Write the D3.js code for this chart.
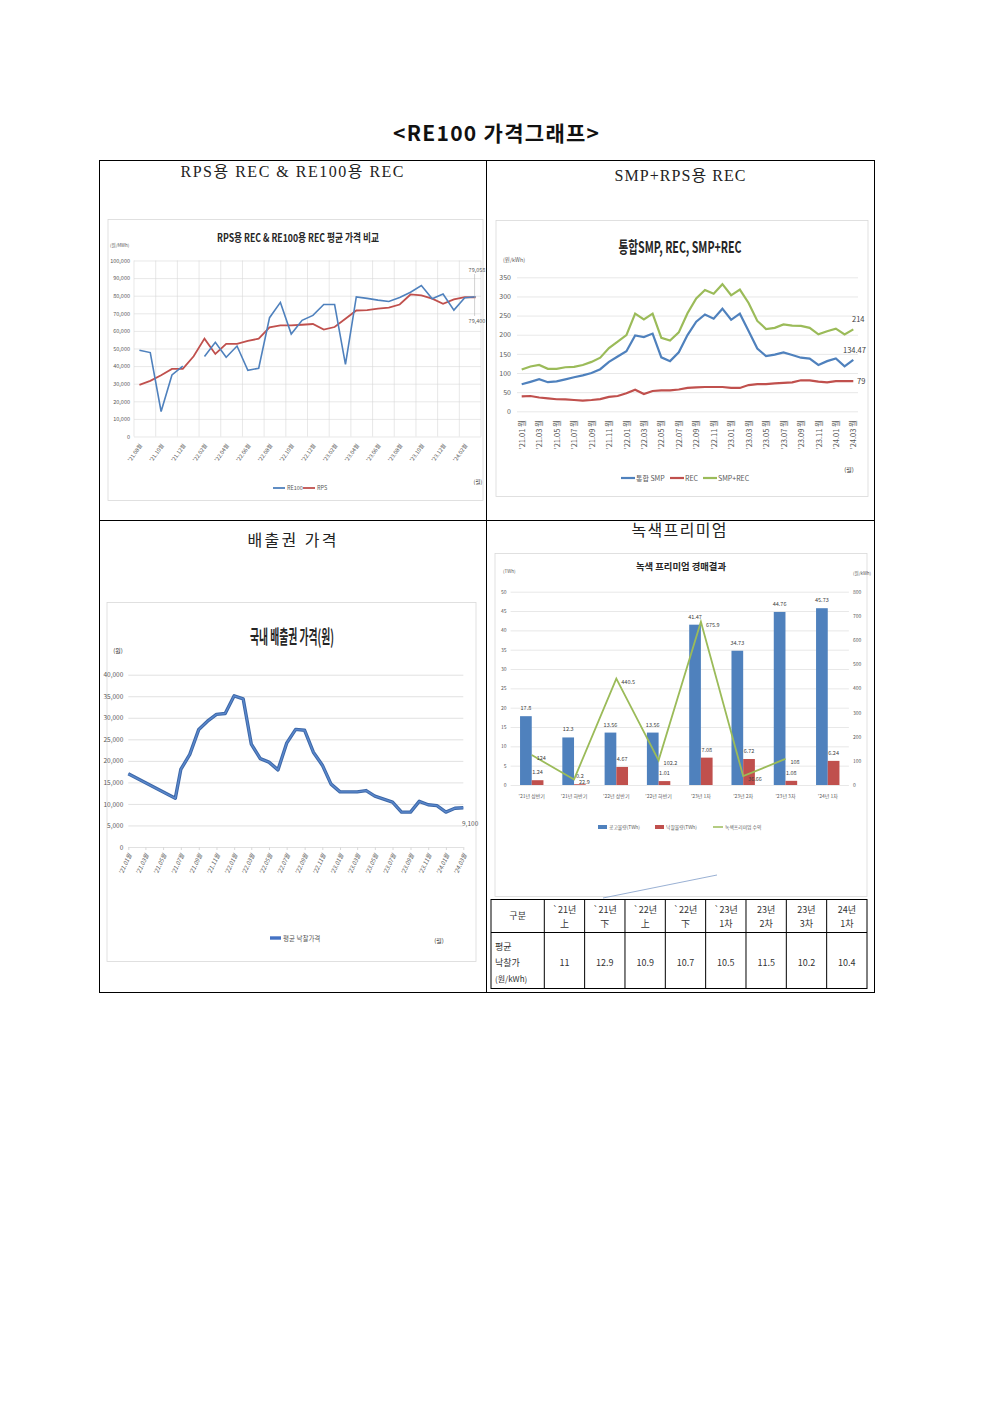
<!DOCTYPE html>
<html>
<head>
<meta charset="utf-8">
<script src="https://cdn.jsdelivr.net/npm/d3@7"></script>
<style>
  body { margin: 0; background: #fff; }
  svg { display: block; }
</style>
</head>
<body>
<svg id="page"></svg>
<script>
const KR = "'Noto Sans CJK KR', 'Noto Sans', sans-serif";
const SERIF = "'Liberation Serif', 'DejaVu Serif', 'Noto Sans CJK KR', serif";

// --- RPS REC vs RE100 REC (won/MWh), monthly '21.08 ~ '24.03
const recMonths = ["21.08","21.09","21.10","21.11","21.12","22.01","22.02","22.03","22.04","22.05","22.06","22.07",
  "22.08","22.09","22.10","22.11","22.12","23.01","23.02","23.03","23.04","23.05","23.06","23.07",
  "23.08","23.09","23.10","23.11","23.12","24.01","24.02","24.03"];
const re100Price = [49000, 47700, 14200, 35000, 40000, null, 45500, 53500, 45000, 51400, 37600, 38800,
  67500, 76200, 58200, 66000, 68800, 75000, 75000, 41000, 79300, 78500, 77500, 76700,
  79000, 82000, 85800, 78300, 81000, 71800, 78800, 79400];
const rpsPrice = [29300, 31600, 34800, 38400, 38500, 45600, 55600, 46900, 52600, 52600, 54300, 55600,
  62000, 63100, 63100, 63500, 63900, 60700, 62200, 66900, 71600, 71800, 72600, 73200,
  75000, 80700, 80200, 78300, 75400, 77900, 79200, 79058];

// --- SMP, REC, SMP+REC (won/kWh), monthly '21.01 ~ '24.03
const smpMonths = ["21.01","21.02","21.03","21.04","21.05","21.06","21.07","21.08","21.09","21.10","21.11","21.12",
  "22.01","22.02","22.03","22.04","22.05","22.06","22.07","22.08","22.09","22.10","22.11","22.12",
  "23.01","23.02","23.03","23.04","23.05","23.06","23.07","23.08","23.09","23.10","23.11","23.12",
  "24.01","24.02","24.03"];
const smpPrice = [70.5, 77, 84, 76, 78, 83.5, 89, 94, 100, 110, 129, 143,
  157, 198, 194, 203, 141, 131, 154, 199, 234, 253, 242, 268,
  239, 255, 210, 164, 144, 148, 154, 147, 140, 137.5, 121, 131,
  138, 117.5, 134.47];
const recPrice = [39, 40, 36, 34, 31.5, 31, 29.5, 28, 29.5, 32, 37.5, 40,
  47, 56.5, 45, 53, 54.5, 54.5, 57, 61, 62.5, 63.5, 63.5, 63.5,
  61, 61, 68.5, 71, 71, 73, 74, 75.5, 81, 81, 77.5, 75.5,
  79, 79, 79];
const smpRecPrice = [109, 117, 121, 111, 111, 115, 116, 121, 129, 140, 165, 182,
  199, 255, 240, 255, 192, 185, 206, 256, 295, 317, 307, 332,
  303, 318, 283, 236, 215, 218, 227, 224, 223, 218, 201, 209,
  216, 201, 214];

// --- emission allowance average price (won)
const kauDates = ["2021-01-01","2021-06-12","2021-07-01","2021-08-01","2021-09-01","2021-10-01","2021-11-01","2021-12-01",
  "2022-01-01","2022-02-01","2022-03-01","2022-04-01","2022-05-01","2022-06-01","2022-07-01","2022-08-01",
  "2022-09-01","2022-10-01","2022-11-01","2022-12-01","2023-01-01","2023-02-01","2023-03-01","2023-04-01",
  "2023-05-01","2023-07-01","2023-08-01","2023-09-01","2023-10-01","2023-11-01","2023-12-01","2024-01-01",
  "2024-02-01","2024-03-01"];
const kauPrice = [17000, 11300, 18000, 21500, 27300, 29200, 30800, 31000,
  35100, 34400, 23900, 20500, 19700, 17900, 24100, 27300,
  27100, 22000, 19000, 14600, 12800, 12800, 12800, 13100,
  11800, 10400, 8100, 8100, 10600, 9800, 9600, 8100,
  9000, 9100];

// --- green premium auctions
const gpRounds = ["'21년 상반기","'21년 하반기","'22년 상반기","'22년 하반기","'23년 1차","'23년 2차","'23년 3차","'24년 1차"];
const gpOffered = [17.8, 12.3, 13.56, 13.56, 41.47, 34.73, 44.76, 45.73];
const gpAwarded = [1.24, 0.2, 4.67, 1.01, 7.08, 6.72, 1.08, 6.24];
const gpRevenue = [124, 22.9, 440.5, 102.2, 675.9, 36.66, 108, null];

// --- table under the green premium chart
const tableHead = [["`21년","上"],["`21년","下"],["`22년","上"],["`22년","下"],["`23년","1차"],["23년","2차"],["23년","3차"],["24년","1차"]];
const tablePrice = ["11", "12.9", "10.9", "10.7", "10.5", "11.5", "10.2", "10.4"];

const BLUE = "#4f81bd", RED = "#c0504d", GREEN = "#9bbb59";
const GRID = "#d9d9d9", TICK = "#595959";

const svg = d3.select("#page").attr("width", 992).attr("height", 1403);
svg.append("rect").attr("width", 992).attr("height", 1403).attr("fill", "#fff");

// page title
svg.append("text")
  .attr("x", 496).attr("y", 141)
  .attr("text-anchor", "middle")
  .attr("font-family", KR).attr("font-size", 21).attr("font-weight", 700)
  .attr("fill", "#111")
  .attr("textLength", 206).attr("lengthAdjust", "spacing")
  .text("<RE100 가격그래프>");

// outer box with 4 panels
const box = svg.append("g").attr("fill", "none").attr("stroke", "#000").attr("stroke-width", 1);
box.append("rect").attr("x", 99.5).attr("y", 160.5).attr("width", 775).attr("height", 832);
box.append("line").attr("x1", 486.5).attr("x2", 486.5).attr("y1", 160.5).attr("y2", 992.5);
box.append("line").attr("x1", 99.5).attr("x2", 874.5).attr("y1", 520.5).attr("y2", 520.5);

const panelTitles = [
  { text: "RPS용 REC & RE100용 REC", x: 292, y: 177, w: 223 },
  { text: "SMP+RPS용 REC", x: 680, y: 181, w: 131 },
  { text: "배출권 가격", x: 292, y: 546, w: 89 },
  { text: "녹색프리미엄", x: 679, y: 536, w: 95 }
];
svg.append("g").selectAll("text").data(panelTitles).join("text")
  .attr("x", d => d.x).attr("y", d => d.y)
  .attr("text-anchor", "middle")
  .attr("font-family", SERIF).attr("font-size", 16)
  .attr("fill", "#222")
  .attr("textLength", d => d.w).attr("lengthAdjust", "spacing")
  .text(d => d.text);

const frame = (x, y, w, h) =>
  svg.append("rect").attr("x", x).attr("y", y).attr("width", w).attr("height", h)
    .attr("fill", "#fff").attr("stroke", "#d9d9d9").attr("stroke-width", 0.8);

const smallText = (g, x, y, t, size, anchor = "start", color = TICK) =>
  g.append("text").attr("x", x).attr("y", y).attr("text-anchor", anchor)
    .attr("font-family", KR).attr("font-size", size).attr("fill", color).text(t);

const chartTitle = (x, y, t, size, w) =>
  svg.append("text").attr("x", x).attr("y", y).attr("text-anchor", "middle")
    .attr("font-family", KR).attr("font-size", size).attr("font-weight", 700)
    .attr("fill", "#262626")
    .attr("textLength", w).attr("lengthAdjust", "spacingAndGlyphs")
    .text(t);

const styleAxis = (g, size) => {
  g.select(".domain").remove();
  g.selectAll(".tick text").attr("font-family", KR).attr("font-size", size).attr("fill", TICK);
};

// ================= chart 1 : RPS REC vs RE100 REC =================
{
  frame(108, 219.5, 375, 281);
  const g = svg.append("g");
  const L = 134, R = 481;
  const x = d3.scaleBand().domain(recMonths).range([L, R]);
  const y = d3.scaleLinear().domain([0, 100000]).range([436.5, 260.5]);

  chartTitle(298, 242, "RPS용 REC & RE100용 REC 평균 가격 비교", 11, 162);
  smallText(g, 110, 247, "(원/MWh)", 4.5);

  g.append("g").attr("transform", `translate(${L},0)`)
    .call(d3.axisLeft(y).ticks(10).tickSize(-(R - L)).tickPadding(4).tickFormat(d3.format(",")))
    .call(a => styleAxis(a, 5.5))
    .call(a => a.selectAll(".tick line").attr("stroke", GRID).attr("stroke-width", 0.6));

  const labelMonths = recMonths.filter((d, i) => i % 2 === 0);
  g.append("g").selectAll("line").data(labelMonths.map(m => x(m)).concat([R])).join("line")
    .attr("x1", d => d).attr("x2", d => d).attr("y1", 260.5).attr("y2", 436.5)
    .attr("stroke", GRID).attr("stroke-width", 0.6);

  g.append("g").attr("transform", "translate(0,436.5)")
    .call(d3.axisBottom(x).tickValues(labelMonths).tickSize(0).tickFormat(d => `'${d}월`))
    .call(a => styleAxis(a, 5.5))
    .call(a => a.selectAll(".tick text")
      .attr("text-anchor", "end").attr("dy", 0).attr("y", 0)
      .attr("transform", "translate(3,9) rotate(-55)"));

  const cx = (d, i) => x(recMonths[i]) + x.bandwidth() / 2;
  const line = d3.line().defined(d => d != null).x(cx).y(d => y(d));
  g.append("path").datum(rpsPrice).attr("d", line)
    .attr("fill", "none").attr("stroke", RED).attr("stroke-width", 1.8);
  g.append("path").datum(re100Price).attr("d", line)
    .attr("fill", "none").attr("stroke", BLUE).attr("stroke-width", 1.6);

  const lastX = cx(null, recMonths.length - 1);
  g.append("line").attr("x1", lastX - 1).attr("x2", lastX - 1)
    .attr("y1", 274).attr("y2", 316).attr("stroke", "#a6a6a6").attr("stroke-width", 0.5);
  smallText(g, lastX - 7, 272, d3.format(",")(rpsPrice[rpsPrice.length - 1]), 5.5);
  smallText(g, lastX - 7, 323, d3.format(",")(re100Price[re100Price.length - 1]), 5.5);

  const lg = g.append("g").attr("transform", "translate(0,488)");
  [["RE100", BLUE, 273], ["RPS", RED, 303]].forEach(([t, c, lx]) => {
    lg.append("line").attr("x1", lx).attr("x2", lx + 12).attr("stroke", c).attr("stroke-width", 1.8);
    smallText(lg, lx + 14, 2, t, 5.5);
  });
  smallText(g, 478, 484, "(월)", 5.5, "middle", "#333");
}

// ================= chart 2 : SMP, REC, SMP+REC =================
{
  frame(496, 220.5, 372, 276);
  const g = svg.append("g");
  const x = d3.scalePoint().domain(smpMonths).range([521.7, 853.3]);
  const y = d3.scaleLinear().domain([0, 350]).range([411.3, 277.3]);

  chartTitle(680, 253, "통합SMP, REC, SMP+REC", 16, 123);
  smallText(g, 503, 262, "(원/kWh)", 5.5);

  g.append("g").attr("transform", "translate(517,0)")
    .call(d3.axisLeft(y).ticks(7).tickSize(-341).tickPadding(6))
    .call(a => styleAxis(a, 7))
    .call(a => a.selectAll(".tick line").attr("stroke", GRID).attr("stroke-width", 0.6));

  g.append("g").attr("transform", "translate(0,416)")
    .call(d3.axisBottom(x).tickValues(smpMonths.filter((d, i) => i % 2 === 0)).tickSize(0)
      .tickFormat(d => `'${d} 월`))
    .call(a => styleAxis(a, 7.5))
    .call(a => a.selectAll(".tick text")
      .attr("text-anchor", "end").attr("dy", "0.35em").attr("y", 0)
      .attr("transform", "translate(0,4) rotate(-90)"));

  const line = d3.line().x((d, i) => x(smpMonths[i])).y(d => y(d));
  [[smpRecPrice, GREEN], [recPrice, RED], [smpPrice, BLUE]].forEach(([s, c]) => {
    g.append("path").datum(s).attr("d", line)
      .attr("fill", "none").attr("stroke", c).attr("stroke-width", 2.2);
  });

  const n = smpMonths.length - 1;
  smallText(g, 852, y(smpRecPrice[n]) - 7, smpRecPrice[n], 7.5, "start", "#404040");
  smallText(g, 843, y(smpPrice[n]) - 7, smpPrice[n], 7.5, "start", "#404040");
  smallText(g, 857, y(recPrice[n]) + 3, recPrice[n], 7.5, "start", "#404040");

  const lg = g.append("g").attr("transform", "translate(0,478)");
  [["통합 SMP", BLUE, 621], ["REC", RED, 670], ["SMP+REC", GREEN, 703]].forEach(([t, c, lx]) => {
    lg.append("line").attr("x1", lx).attr("x2", lx + 14).attr("stroke", c).attr("stroke-width", 2.2);
    smallText(lg, lx + 15, 2.5, t, 7, "start", TICK);
  });
  smallText(g, 849, 472, "(월)", 6, "middle", "#333");
}

// ================= chart 3 : emission allowance price =================
{
  frame(107, 602.5, 369, 359);
  const g = svg.append("g");
  const parse = d3.timeParse("%Y-%m-%d");
  const dates = kauDates.map(parse);
  const x = d3.scaleTime().domain([parse("2021-01-01"), parse("2024-03-01")]).range([128.3, 463.3]);
  const y = d3.scaleLinear().domain([0, 40000]).range([847, 674.7]);

  chartTitle(292, 644, "국내 배출권 가격(원)", 19, 84);
  smallText(g, 118, 653, "(원)", 6, "middle", "#333");

  g.append("g").attr("transform", "translate(128.3,0)")
    .call(d3.axisLeft(y).ticks(8).tickSize(-335).tickPadding(5).tickFormat(d3.format(",")))
    .call(a => styleAxis(a, 6.5))
    .call(a => a.selectAll(".tick line").attr("stroke", GRID).attr("stroke-width", 0.8));

  g.append("g").attr("transform", "translate(0,847)")
    .call(d3.axisBottom(x).ticks(d3.timeMonth.every(2)).tickSize(3).tickFormat(d3.timeFormat("'%y.%m월")))
    .call(a => styleAxis(a, 6))
    .call(a => a.selectAll(".tick line").attr("stroke", GRID))
    .call(a => a.selectAll(".tick text")
      .attr("text-anchor", "end").attr("dy", 0).attr("y", 0)
      .attr("font-style", "italic")
      .attr("transform", "translate(3,8) rotate(-65)"));

  const line = d3.line().x((d, i) => x(dates[i])).y(d => y(d));
  g.append("path").datum(kauPrice).attr("d", line)
    .attr("fill", "none").attr("stroke", "#3d68a8").attr("stroke-width", 3.4).attr("stroke-linejoin", "round");
  g.append("path").datum(kauPrice).attr("d", line)
    .attr("fill", "none").attr("stroke", "#5b88cc").attr("stroke-width", 1.4).attr("stroke-linejoin", "round");

  smallText(g, 462, 826, d3.format(",")(kauPrice[kauPrice.length - 1]), 6.5, "start", TICK);

  g.append("line").attr("x1", 270).attr("x2", 281).attr("y1", 938).attr("y2", 938)
    .attr("stroke", "#4472c4").attr("stroke-width", 3.4);
  smallText(g, 283, 941, "평균 낙찰가격", 6.5, "start", TICK);
  smallText(g, 439, 943, "(월)", 6, "middle", "#333");
}

// ================= chart 4 : green premium auctions =================
{
  frame(495, 553.5, 372, 343);
  const g = svg.append("g");
  const L = 510.6, R = 848.9;
  const x0 = d3.scaleBand().domain(gpRounds).range([L, R]);
  const bw = 11.7;
  const x1 = d3.scaleBand().domain(["offered", "awarded"])
    .range([x0.bandwidth() / 2 - bw, x0.bandwidth() / 2 + bw]);
  const yL = d3.scaleLinear().domain([0, 50]).range([785, 591.7]);
  const yR = d3.scaleLinear().domain([0, 800]).range([785, 591.7]);

  chartTitle(681, 570, "녹색 프리미엄 경매결과", 9.5, 90);
  smallText(g, 503, 573, "(TWh)", 4.5);
  smallText(g, 853, 575, "(원/kWh)", 4.5);

  g.append("g").attr("transform", `translate(${L},0)`)
    .call(d3.axisLeft(yL).ticks(10).tickSize(-(R - L)).tickPadding(4))
    .call(a => styleAxis(a, 5))
    .call(a => a.selectAll(".tick line").attr("stroke", GRID).attr("stroke-width", 0.6));
  g.append("g").attr("transform", `translate(${R},0)`)
    .call(d3.axisRight(yR).ticks(8).tickSize(0).tickPadding(4))
    .call(a => styleAxis(a, 5));

  g.append("g").attr("transform", "translate(0,785)")
    .call(d3.axisBottom(x0).tickSize(0).tickPadding(9))
    .call(a => styleAxis(a, 5));

  const groups = g.append("g").selectAll("g").data(gpRounds).join("g")
    .attr("transform", d => `translate(${x0(d)},0)`);
  groups.append("rect")
    .attr("x", x1("offered")).attr("width", x1.bandwidth())
    .attr("y", (d, i) => yL(gpOffered[i])).attr("height", (d, i) => 785 - yL(gpOffered[i]))
    .attr("fill", BLUE);
  groups.append("rect")
    .attr("x", x1("awarded")).attr("width", x1.bandwidth())
    .attr("y", (d, i) => yL(gpAwarded[i])).attr("height", (d, i) => 785 - yL(gpAwarded[i]))
    .attr("fill", RED);
  groups.append("text")
    .attr("x", x1("offered") + x1.bandwidth() / 2).attr("y", (d, i) => yL(gpOffered[i]) - 6)
    .attr("text-anchor", "middle").attr("font-family", KR).attr("font-size", 5.5).attr("fill", "#404040")
    .text((d, i) => gpOffered[i]);
  groups.append("text")
    .attr("x", x1("awarded") + x1.bandwidth() / 2).attr("y", (d, i) => yL(gpAwarded[i]) - 6)
    .attr("text-anchor", "middle").attr("font-family", KR).attr("font-size", 5.5).attr("fill", "#404040")
    .text((d, i) => gpAwarded[i]);

  const cx = (d, i) => x0(gpRounds[i]) + x0.bandwidth() / 2;
  const line = d3.line().defined(d => d != null).x(cx).y(d => yR(d));
  g.append("path").datum(gpRevenue).attr("d", line)
    .attr("fill", "none").attr("stroke", GREEN).attr("stroke-width", 1.8);
  g.append("g").selectAll("text").data(gpRevenue).join("text")
    .filter(d => d != null)
    .attr("x", (d, i) => cx(d, i) + 5).attr("y", d => yR(d) + 5)
    .attr("font-family", KR).attr("font-size", 5.5).attr("fill", "#404040")
    .text(d => d);

  const lg = g.append("g").attr("transform", "translate(0,827)");
  lg.append("rect").attr("x", 598).attr("y", -2).attr("width", 9).attr("height", 4).attr("fill", BLUE);
  smallText(lg, 609, 2, "공고물량(TWh)", 4.8);
  lg.append("rect").attr("x", 655).attr("y", -2).attr("width", 9).attr("height", 4).attr("fill", RED);
  smallText(lg, 666, 2, "낙찰물량(TWh)", 4.8);
  lg.append("line").attr("x1", 713).attr("x2", 723).attr("stroke", GREEN).attr("stroke-width", 1.5);
  smallText(lg, 725, 2, "녹색프리미엄 수익", 4.8);

  svg.append("line").attr("x1", 603).attr("y1", 898).attr("x2", 717).attr("y2", 875)
    .attr("stroke", "#7f9cc8").attr("stroke-width", 0.8);
}

// ================= table =================
{
  const g = svg.append("g");
  const TL = 491, TF = 544.3, TR = 867, T0 = 899.5, T1 = 932.5, T2 = 988.5;
  const col = d3.scaleBand().domain(d3.range(tablePrice.length)).range([TF, TR]);
  g.append("rect").attr("x", TL).attr("y", T0).attr("width", TR - TL).attr("height", T2 - T0)
    .attr("fill", "#fff").attr("stroke", "#000").attr("stroke-width", 1);
  g.append("line").attr("x1", TL).attr("x2", TR).attr("y1", T1).attr("y2", T1).attr("stroke", "#000");
  g.append("g").selectAll("line").data(d3.range(tablePrice.length)).join("line")
    .attr("x1", d => col(d)).attr("x2", d => col(d)).attr("y1", T0).attr("y2", T2).attr("stroke", "#000");

  const tf = (x, y, t, anchor = "middle") =>
    g.append("text").attr("x", x).attr("y", y).attr("text-anchor", anchor)
      .attr("font-family", KR).attr("font-size", 9).attr("fill", "#333").text(t);

  tf((TL + TF) / 2, 919, "구분");
  tableHead.forEach((h, i) => {
    const cxm = col(i) + col.bandwidth() / 2;
    tf(cxm, 913, h[0]);
    tf(cxm, 927, h[1]);
  });
  tf(TL + 4, 950, "평균", "start");
  tf(TL + 4, 966, "낙찰가", "start");
  tf(TL + 4, 982, "(원/kWh)", "start").attr("font-size", 8);
  tablePrice.forEach((v, i) => tf(col(i) + col.bandwidth() / 2, 966, v));
}
</script>
</body>
</html>
